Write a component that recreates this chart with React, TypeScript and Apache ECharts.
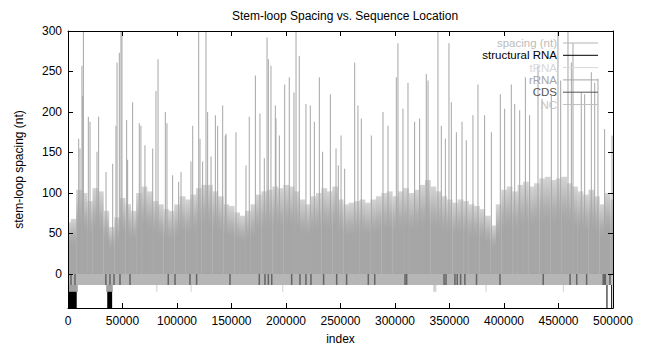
import React, { useEffect, useRef } from "react";
import * as echarts from "echarts";

// ---------- data ----------
const xTicks = [0, 50000, 100000, 150000, 200000, 250000, 300000, 350000, 400000, 450000, 500000];
const yTicks = [0, 50, 100, 150, 200, 250, 300];

// dense body of the spacing impulses, one value per 5000 indices (0..500000)
const bodyStep = 5000;
const bodyValues = [
  64, 68, 104, 100, 90, 106, 102, 78, 58, 70,
  94, 86, 78, 100, 108, 102, 90, 86, 80, 78,
  86, 96, 92, 98, 106, 110, 110, 102, 96, 86,
  84, 76, 72, 78, 86, 98, 102, 104, 108, 106,
  110, 108, 102, 92, 86, 96, 100, 106, 102, 108,
  92, 86, 88, 90, 92, 88, 92, 96, 100, 102,
  96, 102, 106, 100, 104, 110, 116, 108, 102, 96,
  92, 88, 92, 90, 86, 84, 80, 72, 60, 86,
  104, 108, 102, 110, 114, 108, 112, 118, 120, 116,
  118, 120, 112, 108, 102, 98, 104, 96, 86, 100, 92,
];

// individual tall spacing spikes [index, spacing]
const spikes: [number, number][] = [
  [9800, 167], [11000, 155], [12800, 257], [13500, 220], [14100, 320], [18650, 194], [20200, 188],
  [26600, 151], [28100, 194], [34900, 126], [41000, 136], [44000, 183], [45000, 261], [47100, 273],
  [48600, 320], [49500, 320], [53800, 190], [54700, 141], [59300, 212], [65400, 186], [66900, 183],
  [70600, 159], [77700, 155], [80700, 226], [82600, 265], [89300, 200], [90800, 186], [96000, 122],
  [101500, 114], [103700, 126], [112800, 139], [114400, 183], [119900, 320], [121100, 167],
  [123500, 139], [126600, 320], [128100, 200], [131200, 145], [135200, 196], [137300, 183],
  [141900, 208], [144300, 171], [145000, 173], [154100, 175], [163300, 134], [166300, 194],
  [171900, 245], [176100, 198], [180100, 143], [182600, 292], [183800, 265], [186200, 257],
  [190200, 208], [190800, 192], [193900, 171], [198800, 234], [203000, 243], [207300, 224],
  [209200, 320], [212200, 269], [218300, 210], [222300, 208], [226000, 188], [230600, 243],
  [233600, 151], [240700, 222], [245900, 155], [248000, 134], [250500, 171], [253800, 130],
  [263000, 261], [266000, 208], [269100, 192], [278300, 171], [289000, 200], [293600, 183],
  [301200, 243], [302700, 285], [307300, 204], [311900, 236], [318000, 188], [322600, 192],
  [328700, 247], [330300, 239], [339400, 320], [342500, 183], [346200, 167], [349500, 285],
  [351700, 212], [356300, 175], [361500, 188], [365400, 165], [371500, 196], [376100, 234],
  [382200, 196], [388400, 175], [396600, 222], [400600, 204], [406700, 234], [409800, 210],
  [414400, 202], [419600, 243], [423500, 196], [431200, 257], [434900, 216], [443400, 220],
  [449500, 320], [452000, 239], [458700, 320], [461800, 261], [463300, 285], [470900, 224],
  [474000, 222], [480100, 249], [483200, 236], [486200, 241], [492300, 179], [499100, 171],
];

// annotation tracks: [start, end, depth]
const structuralRNA: [number, number, number][] = [
  [0, 8000, -50], [36000, 40500, -50], [494000, 494700, -50], [498300, 499000, -50],
];
const tRNA: [number, number, number][] = [
  [81000, 82000, -22], [112500, 113300, -22], [196500, 197500, -22], [335000, 338000, -22],
  [383000, 384000, -22], [454000, 455000, -22],
];
const rRNA: [number, number, number][] = [
  [0, 9000, -22], [35000, 41000, -22],
];
const NC: [number, number, number][] = [[0, 499500, -13.5]];
const cdsDepth = -13.5;
const cdsSites = [
  2750, 6400, 34700, 38500, 42200, 47700, 56900, 92000, 98200, 111900, 118000, 148600, 175500,
  180700, 183800, 186900, 205200, 212800, 218300, 222900, 234500, 246500, 255600, 275500, 281400,
  309200, 310700, 345000, 346800, 355000, 357100, 360200, 364100, 374800, 396300, 436000, 460600,
  466700, 475800, 491000, 492000, 493000, 497200,
];

const legendNames = ["spacing (nt)", "structural RNA", "tRNA", "rRNA", "CDS", "NC"];

const FONT = "'Liberation Sans', Arial, Helvetica, sans-serif";

const C = {
  spacing: "#a6a6a6",
  structural: "#000000",
  tRNA: "#d2d2d2",
  rRNA: "#a2a2a2",
  CDS: "#656565",
  NC: "#b6b6b6",
};
const legendText = ["#bcbcbc", "#000000", "#d8d8d8", "#a6a6a6", "#555555", "#c6c6c6"];
const legendLine = ["#b4b4b4", "#000000", "#d8d8d8", "#a6a6a6", "#555555", "#c0c0c0"];

function rangeRenderer(color: string) {
  return (_p: any, api: any) => {
    const a = api.coord([api.value(0), 0]);
    const b = api.coord([api.value(1), api.value(2)]);
    return {
      type: "rect",
      shape: { x: a[0], y: Math.min(a[1], b[1]), width: Math.max(1, b[0] - a[0]), height: Math.abs(b[1] - a[1]) },
      style: { fill: color },
    };
  };
}

function impulseRenderer(color: string, w: number) {
  return (_p: any, api: any) => {
    const a = api.coord([api.value(0), 0]);
    const b = api.coord([api.value(0), api.value(1)]);
    return {
      type: "rect",
      shape: { x: a[0] - w / 2, y: Math.min(a[1], b[1]), width: w, height: Math.abs(b[1] - a[1]) },
      style: { fill: color },
    };
  };
}

function blockRenderer(step: number) {
  return (_p: any, api: any) => {
    const a = api.coord([api.value(0) - step / 2, 0]);
    const b = api.coord([api.value(0) + step / 2, api.value(1)]);
    return {
      type: "rect",
      shape: { x: a[0], y: Math.min(a[1], b[1]), width: b[0] - a[0] + 0.3, height: Math.abs(b[1] - a[1]) },
      style: {
        fill: new echarts.graphic.LinearGradient(0, 0, 0, 1, [
          { offset: 0, color: "#d4d4d4" },
          { offset: 0.3, color: "#b0b0b0" },
          { offset: 0.45, color: "#a6a6a6" },
          { offset: 1, color: "#a6a6a6" },
        ]),
      },
    };
  };
}

export default function App() {
  const ref = useRef<HTMLDivElement>(null);
  useEffect(() => {
    if (!ref.current) return;
    const chart = echarts.init(ref.current, undefined, { renderer: "svg" });
    const bodyData = bodyValues.map((v, i) => [i * bodyStep, v]);
    const axisLine = { show: true, onZero: false, lineStyle: { color: "#000", width: 1 } };
    const tickStyle = { show: true, inside: true, length: 5, lineStyle: { color: "#000" } };
    const labelStyle = { color: "#000", fontSize: 12, fontFamily: FONT };

    const legendGraphics: any[] = [];
    legendNames.forEach((name, i) => {
      const y = 43 + 12.3 * i;
      legendGraphics.push({
        type: "text", x: 557, y, silent: true, z: 100,
        style: { text: name, fill: legendText[i], font: `11.5px ${FONT}`, align: "right", verticalAlign: "middle" },
      });
      legendGraphics.push({
        type: "line", silent: true, z: 100,
        shape: { x1: 563, y1: y, x2: 598, y2: y },
        style: { stroke: legendLine[i], lineWidth: 1 },
      });
    });

    chart.setOption({
      animation: false,
      backgroundColor: "#fff",
      title: {
        text: "Stem-loop Spacing vs. Sequence Location",
        left: 340,
        textAlign: "center",
        top: 5,
        textStyle: { fontSize: 12, fontWeight: "normal", color: "#000", fontFamily: FONT },
      },
      legend: { show: false },
      graphic: legendGraphics,
      grid: { left: 68, right: 32, top: 31, bottom: 41, containLabel: false },
      xAxis: [
        {
          type: "value", min: 0, max: 500000, interval: 50000, position: "bottom", z: 10,
          axisLine, axisTick: tickStyle, splitLine: { show: false },
          axisLabel: { ...labelStyle, inside: false, margin: 7, customValues: xTicks, formatter: (v: number) => String(v) },
          name: "index", nameLocation: "middle", nameGap: 25,
          nameTextStyle: { ...labelStyle },
        },
        {
          type: "value", min: 0, max: 500000, interval: 50000, position: "top", z: 10,
          axisLine, axisTick: tickStyle, splitLine: { show: false }, axisLabel: { show: false },
        },
      ],
      yAxis: [
        {
          type: "value", min: -42, max: 300, position: "left", z: 10,
          axisLine, axisTick: { show: true, inside: true, length: 5, lineStyle: { color: "#000" } },
          splitLine: { show: false },
          axisLabel: { ...labelStyle, inside: false, margin: 6, customValues: yTicks, formatter: (v: number) => (v < 0 ? "" : String(v)) },
          name: "stem-loop spacing (nt)", nameLocation: "middle", nameGap: 43,
          nameTextStyle: { ...labelStyle },
        },
        {
          type: "value", min: -42, max: 300, position: "right", z: 10,
          axisLine, axisTick: { show: true, inside: true, length: 5, lineStyle: { color: "#000" } },
          splitLine: { show: false },
          axisLabel: { show: false },
        },
      ],
      series: [
        {
          name: "spacing (nt)", type: "custom", clip: true, silent: true, z: 2,
          itemStyle: { color: C.spacing },
          renderItem: blockRenderer(bodyStep),
          encode: { x: 0, y: 1 }, data: bodyData,
        },
        {
          name: "spacing (nt)", type: "custom", clip: true, silent: true, z: 2,
          itemStyle: { color: C.spacing },
          renderItem: impulseRenderer(C.spacing, 1),
          encode: { x: 0, y: 1 }, data: spikes,
        },
        {
          name: "structural RNA", type: "custom", clip: true, silent: true, z: 2,
          itemStyle: { color: C.structural },
          renderItem: rangeRenderer(C.structural),
          encode: { x: [0, 1], y: 2 }, data: structuralRNA,
        },
        {
          name: "tRNA", type: "custom", clip: true, silent: true, z: 2,
          itemStyle: { color: C.tRNA },
          renderItem: rangeRenderer(C.tRNA),
          encode: { x: [0, 1], y: 2 }, data: tRNA,
        },
        {
          name: "rRNA", type: "custom", clip: true, silent: true, z: 2,
          itemStyle: { color: C.rRNA },
          renderItem: rangeRenderer(C.rRNA),
          encode: { x: [0, 1], y: 2 }, data: rRNA,
        },
        {
          name: "NC", type: "custom", clip: true, silent: true, z: 2,
          itemStyle: { color: C.NC },
          renderItem: rangeRenderer(C.NC),
          encode: { x: [0, 1], y: 2 }, data: NC,
        },
        {
          name: "CDS", type: "custom", clip: true, silent: true, z: 2,
          itemStyle: { color: C.CDS },
          renderItem: impulseRenderer(C.CDS, 1.5),
          encode: { x: 0, y: 1 }, data: cdsSites.map((s) => [s, cdsDepth]),
        },
      ],
    });
    return () => chart.dispose();
  }, []);
  return <div ref={ref} style={{ position: "fixed", left: 0, top: 0, width: 645, height: 350 }} />;
}
